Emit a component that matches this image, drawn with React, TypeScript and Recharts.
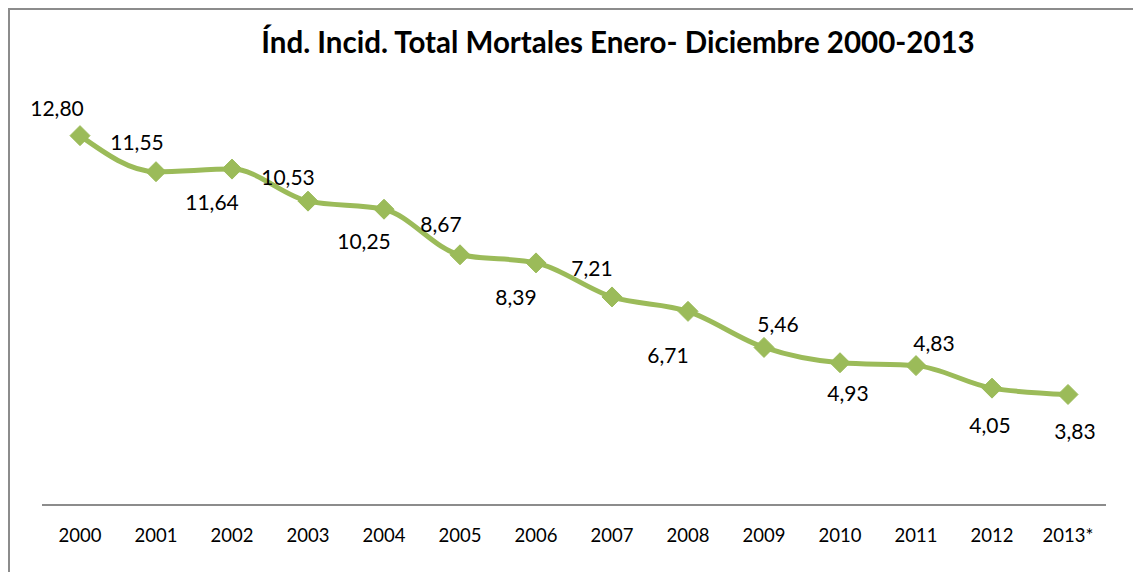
import { CartesianGrid, Line, LineChart, XAxis, YAxis } from "recharts";

const years = ["2000", "2001", "2002", "2003", "2004", "2005", "2006", "2007", "2008", "2009", "2010", "2011", "2012", "2013*"];
const indices = [12.8, 11.55, 11.64, 10.53, 10.25, 8.67, 8.39, 7.21, 6.71, 5.46, 4.93, 4.83, 4.05, 3.83];

// where each value label sits relative to its marker
const labelOffsets = [
  [-23, -28], [-19, -30], [-20, 32], [-20, -25], [-20, 31], [-19, -31], [-20, 34],
  [-20, -29], [-20, 43], [14, -24], [8, 30], [18, -23], [-2, 36], [7, 36],
];

const data = years.map((year, i) => ({ year, value: indices[i] }));

const GREEN = "#9bbb59";
const FONT = "Lato, 'Open Sans', sans-serif";

function Diamond(props: any) {
  const { cx, cy } = props;
  if (cx == null || cy == null) return null;
  const r = 10;
  return (
    <path
      d={`M${cx},${cy - r} L${cx + r},${cy} L${cx},${cy + r} L${cx - r},${cy} Z`}
      fill={GREEN}
      stroke={GREEN}
      strokeWidth={1}
    />
  );
}

function ValueLabel(props: any) {
  const { x, y, value, index } = props;
  const [dx, dy] = labelOffsets[index] || [0, -20];
  return (
    <text
      x={x + dx}
      y={y + dy}
      textAnchor="middle"
      dominantBaseline="central"
      fontSize={21}
      fontFamily={FONT}
      fill="#000"
    >
      {Number(value).toFixed(2).replace(".", ",")}
    </text>
  );
}

export default function App() {
  return (
    <div style={{ position: "absolute", left: 0, top: 0, width: 1133, height: 572, background: "#fff" }}>
      <div
        style={{
          position: "absolute",
          left: 8,
          top: 8,
          right: 0,
          bottom: 0,
          borderLeft: "2px solid #8c8c8c",
          borderTop: "2px solid #8c8c8c",
        }}
      />
      <div
        style={{
          position: "absolute",
          left: 0,
          width: 1236,
          top: 24,
          textAlign: "center",
          fontFamily: FONT,
          fontWeight: 700,
          fontSize: 29.5,
          color: "#000",
        }}
      >
        Índ. Incid. Total Mortales Enero- Diciembre 2000-2013
      </div>
      <LineChart
        width={1133}
        height={572}
        data={data}
        margin={{ top: 101, right: 27, left: 42, bottom: 37 }}
        style={{ position: "absolute", left: 0, top: 0 }}
      >
        <CartesianGrid horizontal={false} vertical={false} />
        <YAxis hide domain={[0, 14]} />
        <XAxis
          dataKey="year"
          axisLine={{ stroke: "#8c8c8c", strokeWidth: 2 }}
          tickLine={false}
          tick={{ fontSize: 18.5, fill: "#000", fontFamily: FONT }}
          tickMargin={18}
          interval={0}
          padding={{ left: 38, right: 38 }}
        />
        <Line
          type="monotone"
          dataKey="value"
          stroke={GREEN}
          strokeWidth={5}
          dot={<Diamond />}
          activeDot={false}
          label={<ValueLabel />}
          isAnimationActive={false}
        />
      </LineChart>
    </div>
  );
}
